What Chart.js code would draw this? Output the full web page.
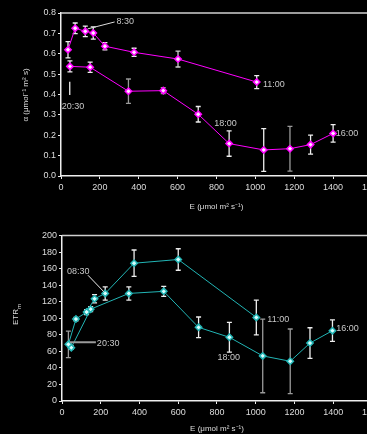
<!DOCTYPE html>
<html>
<head>
<meta charset="utf-8">
<script src="https://cdn.jsdelivr.net/npm/chart.js@4.4.0/dist/chart.umd.min.js"></script>
<style>
  html, body { margin: 0; padding: 0; background: #000; overflow: hidden; width: 367px; height: 434px; }
  canvas { display: block; }
</style>
</head>
<body>
<canvas id="alphaChart" width="385" height="212"></canvas>
<canvas id="etrChart" width="385" height="222"></canvas>
<script>
// x ticks shared by both panels
const xTicks = [0, 200, 400, 600, 800, 1000, 1200, 1400, 1600];

// alpha panel, morning (08:30 -> 11:00) and afternoon (16:00 -> 20:30)
const alphaMornE = [36, 73, 125, 166, 226, 376, 602, 1007];
const alphaMorn = [0.62, 0.725, 0.71, 0.702, 0.637, 0.607, 0.574, 0.461];
const alphaMornErr = [0.04, 0.026, 0.026, 0.03, 0.018, 0.02, 0.039, 0.032];
const alphaAftE = [46, 150, 347, 526, 706, 865, 1043, 1178, 1284, 1400];
const alphaAft = [0.538, 0.534, 0.416, 0.419, 0.303, 0.159, 0.128, 0.134, 0.154, 0.209];
const alphaAftErr = [0.027, 0.025, 0.06, 0.015, 0.038, 0.062, 0.105, 0.11, 0.047, 0.043];
const alphaTicks = [0, 0.1, 0.2, 0.3, 0.4, 0.5, 0.6, 0.7, 0.8];

// ETRm panel
const etrMornE = [33, 72, 127, 168, 223, 372, 600, 1003];
const etrMorn = [68.5, 99, 107.5, 123.5, 130, 166.5, 171, 101];
const etrMornErr = [16, 2, 3, 5, 8, 16, 13, 21];
const etrAftE = [48, 148, 345, 525, 705, 864, 1036, 1178, 1280, 1396];
const etrAft = [64.5, 111, 130, 132.5, 89, 77, 54.5, 48, 70, 85];
const etrAftErr = [2, 3, 8, 6, 12.5, 18, 44.5, 39, 18.5, 13];
const etrTicks = [0, 20, 40, 60, 80, 100, 120, 140, 160, 180, 200];

// time labels (data coords)
const alphaNotes = [
  { text: '8:30', x: 285, y: 0.757 },
  { text: '11:00', x: 1039, y: 0.447 },
  { text: '18:00', x: 788, y: 0.256 },
  { text: '16:00', x: 1413, y: 0.207 },
  { text: '20:30', x: 4, y: 0.34 }
];
const etrNotes = [
  { text: '08:30', x: 26, y: 156 },
  { text: '20:30', x: 180, y: 70 },
  { text: '11:00', x: 1060, y: 99 },
  { text: '18:00', x: 803, y: 52 },
  { text: '16:00', x: 1415, y: 87 }
];

const FONT = 'Liberation Sans, Arial, sans-serif';
const WHITE = '#eeeeee';
const GREY = '#9a9a9a';

const toXY = (xs, ys) => xs.map((x, i) => ({ x: x, y: ys[i] }));

const errorBars = {
  id: 'errorBars',
  beforeDatasetsDraw(chart) {
    const ctx = chart.ctx;
    const xs = chart.scales.x, ys = chart.scales.y;
    chart.data.datasets.forEach(ds => {
      ds.data.forEach((p, i) => {
        const e = ds.err[i];
        const px = xs.getPixelForValue(p.x);
        const top = ys.getPixelForValue(p.y + e);
        const bot = ys.getPixelForValue(p.y - e);
        ctx.save();
        ctx.strokeStyle = ds.errColor[i] || WHITE;
        ctx.lineWidth = 1.3;
        ctx.beginPath();
        ctx.moveTo(px, top); ctx.lineTo(px, bot);
        ctx.moveTo(px - 2.5, top); ctx.lineTo(px + 2.5, top);
        ctx.moveTo(px - 2.5, bot); ctx.lineTo(px + 2.5, bot);
        ctx.stroke();
        ctx.restore();
      });
    });
  }
};

const notes = {
  id: 'notes',
  afterDraw(chart, args, opts) {
    const ctx = chart.ctx;
    const xs = chart.scales.x, ys = chart.scales.y;
    const a = chart.chartArea;
    ctx.save();
    // frame top + right
    ctx.strokeStyle = '#cfcfcf';
    ctx.lineWidth = 1.5;
    ctx.beginPath();
    ctx.moveTo(a.left, a.top); ctx.lineTo(a.right, a.top); ctx.lineTo(a.right, a.bottom);
    ctx.stroke();
    (opts.lines || []).forEach(l => {
      ctx.strokeStyle = l.color;
      ctx.lineWidth = l.width;
      ctx.beginPath();
      ctx.moveTo(xs.getPixelForValue(l.x1), ys.getPixelForValue(l.y1));
      ctx.lineTo(xs.getPixelForValue(l.x2), ys.getPixelForValue(l.y2));
      ctx.stroke();
    });
    ctx.fillStyle = '#c8c8c8';
    ctx.font = '9px ' + FONT;
    ctx.textBaseline = 'middle';
    ctx.textAlign = 'left';
    (opts.items || []).forEach(n => {
      ctx.fillText(n.text, xs.getPixelForValue(n.x), ys.getPixelForValue(n.y));
    });
    // y title
    ctx.translate(opts.titleX, opts.titleY);
    ctx.rotate(-Math.PI / 2);
    ctx.textAlign = 'center';
    ctx.fillStyle = '#dddddd';
    ctx.font = '8px ' + FONT;
    if (opts.sub) {
      const w = ctx.measureText(opts.title).width;
      ctx.fillText(opts.title, -2, 0);
      ctx.font = '6px ' + FONT;
      ctx.textAlign = 'left';
      ctx.fillText(opts.sub, w / 2 - 2, 3);
    } else {
      ctx.fillText(opts.title, 0, 0);
    }
    ctx.restore();
  }
};

function makeChart(id, cfg) {
  return new Chart(document.getElementById(id), {
    type: 'line',
    data: {
      datasets: cfg.series.map(s => ({
        data: s.data,
        err: s.err,
        errColor: s.errColor,
        borderColor: cfg.color,
        borderWidth: 1,
        pointStyle: 'rectRot',
        pointRadius: 3.2,
        pointBorderWidth: 1.5,
        pointBorderColor: cfg.color,
        pointBackgroundColor: cfg.fill,
        tension: 0
      }))
    },
    plugins: [errorBars, notes],
    options: {
      responsive: false,
      animation: false,
      layout: { padding: { top: cfg.top, right: 12, left: 0, bottom: 0 } },
      plugins: {
        legend: { display: false },
        tooltip: { enabled: false },
        notes: { items: cfg.notes, lines: cfg.lines, title: cfg.title, sub: cfg.sub, titleX: cfg.titleX, titleY: cfg.titleY }
      },
      scales: {
        x: {
          type: 'linear', min: 0, max: 1600,
          afterBuildTicks: s => { s.ticks = xTicks.map(v => ({ value: v })); },
          afterFit: s => { s.height = cfg.xH; },
          ticks: { color: '#dddddd', font: { family: FONT, size: 9 }, padding: 3, maxRotation: 0, autoSkip: false, callback: v => String(v) },
          grid: { drawOnChartArea: false, color: WHITE, tickLength: 3 },
          border: { color: WHITE, width: 1.5 },
          title: { display: true, text: 'E (μmol m² s⁻¹)', color: '#dddddd', font: { family: FONT, size: 8 }, padding: { top: 2, bottom: 0 } }
        },
        y: {
          type: 'linear', min: cfg.yTicks[0], max: cfg.yTicks[cfg.yTicks.length - 1],
          afterBuildTicks: s => { s.ticks = cfg.yTicks.map(v => ({ value: v })); },
          afterFit: s => { s.width = cfg.yW; },
          ticks: { color: '#dddddd', font: { family: FONT, size: 9 }, padding: 2, autoSkip: false, callback: cfg.fmt },
          grid: { drawOnChartArea: false, color: WHITE, tickLength: 3 },
          border: { color: WHITE, width: 1.5 }
        }
      }
    }
  });
}

makeChart('alphaChart', {
  color: '#ff00ff', fill: '#ffe6ff', top: 13, xH: 36, yW: 61,
  yTicks: alphaTicks, fmt: v => v.toFixed(1),
  title: 'α (μmol⁻¹ m² s)', titleX: 26, titleY: 95,
  series: [
    { data: toXY(alphaMornE, alphaMorn), err: alphaMornErr, errColor: [WHITE, WHITE, WHITE, WHITE, WHITE, WHITE, '#cccccc', WHITE] },
    { data: toXY(alphaAftE, alphaAft), err: alphaAftErr, errColor: [WHITE, WHITE, GREY, GREY, WHITE, WHITE, WHITE, GREY, WHITE, WHITE] }
  ],
  notes: alphaNotes,
  lines: [
    { x1: 137, y1: 0.722, x2: 276, y2: 0.756, color: '#dddddd', width: 1 },
    { x1: 45, y1: 0.462, x2: 45, y2: 0.398, color: WHITE, width: 1.3 }
  ]
});

makeChart('etrChart', {
  color: '#22b5b5', fill: '#d8ffff', top: 23.5, xH: 33, yW: 62,
  yTicks: etrTicks, fmt: v => String(v),
  title: 'ETR', sub: 'm', titleX: 16, titleY: 103,
  series: [
    { data: toXY(etrMornE, etrMorn), err: etrMornErr, errColor: [GREY, WHITE, WHITE, WHITE, WHITE, WHITE, WHITE, WHITE] },
    { data: toXY(etrAftE, etrAft), err: etrAftErr, errColor: [WHITE, WHITE, WHITE, WHITE, WHITE, WHITE, GREY, GREY, WHITE, WHITE] }
  ],
  notes: etrNotes,
  lines: [
    { x1: 134, y1: 152, x2: 216, y2: 132, color: WHITE, width: 1 },
    { x1: 41, y1: 71, x2: 175, y2: 71, color: GREY, width: 2 }
  ]
});
</script>
</body>
</html>
